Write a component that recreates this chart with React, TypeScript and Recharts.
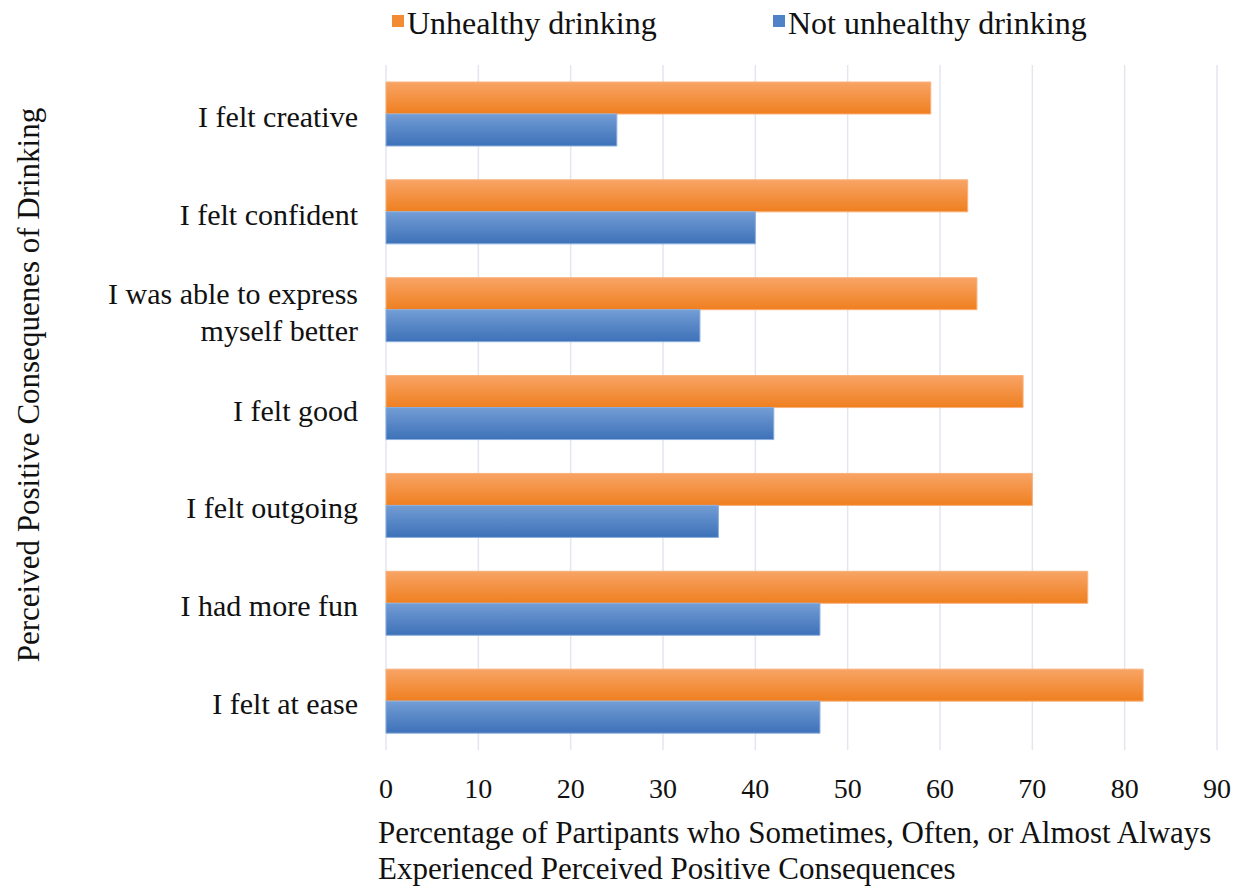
import {
  BarChart,
  Bar,
  XAxis,
  YAxis,
  CartesianGrid,
  Legend,
  Label,
} from "recharts";

const categories = [
  "I felt creative",
  "I felt confident",
  "I was able to express\nmyself better",
  "I felt good",
  "I felt outgoing",
  "I had more fun",
  "I felt at ease",
];
const unhealthy = [59, 63, 64, 69, 70, 76, 82];
const notUnhealthy = [25, 40, 34, 42, 36, 47, 47];
const xTicks = [0, 10, 20, 30, 40, 50, 60, 70, 80, 90];

const data = categories.map((name, i) => ({
  name,
  unhealthy: unhealthy[i],
  notUnhealthy: notUnhealthy[i],
}));

const FONT = "'Liberation Serif', 'Times New Roman', serif";

function CategoryTick(props: any) {
  const { x, y, payload } = props;
  const lines = String(payload.value).split("\n");
  const lh = 37;
  const start = -((lines.length - 1) * lh) / 2 + 2;
  return (
    <text
      x={x}
      y={y}
      textAnchor="end"
      fontFamily={FONT}
      fontSize={30}
      fill="#111"
      dominantBaseline="central"
    >
      {lines.map((l, i) => (
        <tspan key={i} x={x} dy={i === 0 ? start : lh}>
          {l}
        </tspan>
      ))}
    </text>
  );
}

function LegendBox() {
  const item = (color: string, text: string, left: number) => (
    <div
      style={{
        position: "absolute",
        left,
        top: 0,
        display: "flex",
        alignItems: "center",
        fontFamily: FONT,
        fontSize: 32,
        color: "#111",
        whiteSpace: "nowrap",
      }}
    >
      <span
        style={{
          display: "inline-block",
          width: 12,
          height: 12,
          background: color,
          marginRight: 3,
          marginTop: -6,
        }}
      />
      {text}
    </div>
  );
  return (
    <div style={{ position: "relative", height: 50 }}>
      {item("#f38b33", "Unhealthy drinking", 392)}
      {item("#4f82c6", "Not unhealthy drinking", 773)}
    </div>
  );
}

export default function App() {
  return (
    <div
      style={{
        position: "absolute",
        left: 0,
        top: 0,
        width: 1250,
        height: 886,
        background: "#fff",
      }}
    >
      <BarChart
        width={1250}
        height={886}
        data={data}
        layout="vertical"
        margin={{ top: 65, right: 33, bottom: 0, left: 0 }}
        barGap={0}
      >
        <defs>
          <linearGradient id="gOrange" x1="0" y1="0" x2="0" y2="1">
            <stop offset="0%" stopColor="#f8a466" />
            <stop offset="100%" stopColor="#ef7f1f" />
          </linearGradient>
          <linearGradient id="gBlue" x1="0" y1="0" x2="0" y2="1">
            <stop offset="0%" stopColor="#739dd5" />
            <stop offset="100%" stopColor="#3d71b8" />
          </linearGradient>
        </defs>
        <CartesianGrid horizontal={false} stroke="#e2e7ef" strokeWidth={1.5} />
        <XAxis
          type="number"
          domain={[0, 90]}
          ticks={xTicks}
          axisLine={false}
          tickLine={false}
          tickSize={0}
          tickMargin={28}
          height={136}
          tick={{ fontFamily: FONT, fontSize: 28, fill: "#111" }}
        >
          <Label
            content={(p: any) => {
              const vb = p.viewBox || {};
              const y0 = (vb.y || 750) + 93;
              return (
                <text
                  x={378}
                  y={y0}
                  fontFamily={FONT}
                  fontSize={31}
                  fill="#111"
                  textAnchor="start"
                >
                  <tspan x={378}>
                    Percentage of Partipants who Sometimes, Often, or Almost Always
                  </tspan>
                  <tspan x={378} dy={36}>
                    Experienced Perceived Positive Consequences
                  </tspan>
                </text>
              );
            }}
          />
        </XAxis>
        <YAxis
          type="category"
          dataKey="name"
          width={386}
          axisLine={false}
          tickLine={false}
          tickSize={0}
          tickMargin={28}
          tick={<CategoryTick />}
          interval={0}
        >
          <Label
            content={() => (
              <text
                x={28}
                y={385}
                transform="rotate(-90 28 385)"
                textAnchor="middle"
                dominantBaseline="central"
                fontFamily={FONT}
                fontSize={31}
                fill="#111"
              >
                Perceived Positive Consequenes of Drinking
              </text>
            )}
          />
        </YAxis>
        <Legend
          verticalAlign="middle"
          layout="horizontal"
          wrapperStyle={{ top: 5, left: 0, width: 1250 }}
          content={() => <LegendBox />}
        />
        <Bar
          dataKey="unhealthy"
          name="Unhealthy drinking"
          fill="url(#gOrange)"
          stroke="#fab07a"
          strokeWidth={1}
          barSize={32}
          isAnimationActive={false}
        />
        <Bar
          dataKey="notUnhealthy"
          name="Not unhealthy drinking"
          fill="url(#gBlue)"
          stroke="#8aaede"
          strokeWidth={1}
          barSize={32}
          isAnimationActive={false}
        />
      </BarChart>
    </div>
  );
}
